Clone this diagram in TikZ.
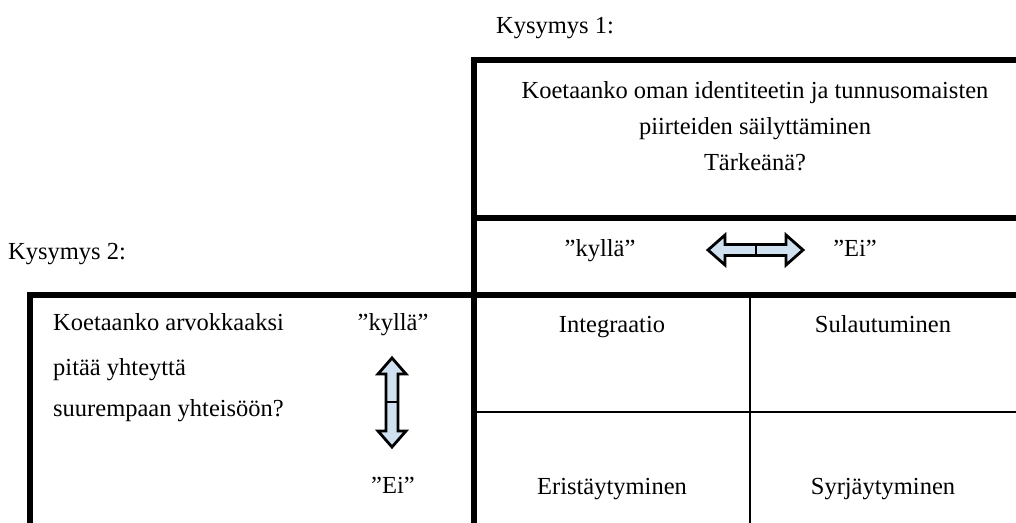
\documentclass[tikz,border=0pt]{standalone}
\usepackage{fontspec}
\setmainfont{Liberation Serif}
\definecolor{arrowblue}{HTML}{CFE0F1}
\begin{document}
\begin{tikzpicture}[x=1pt,y=-1pt,
  lbl/.style={font=\fontsize{24.5}{36}\selectfont, inner sep=0pt, text height=17pt, text depth=5pt, anchor=center},
  lbll/.style={lbl, anchor=west},
  thickline/.style={line width=5.5pt, line cap=rect},
  thinline/.style={line width=2pt},
  blockarrow/.style={draw=black, line width=2.8pt, fill=arrowblue, line join=miter},
  divider/.style={line width=2.5pt}]
\useasboundingbox (0,0) rectangle (1016,522);
\clip (0,0) rectangle (1016,522);
% frame lines
\coordinate (tl) at (474,60);
\coordinate (tr) at (1030,60);
\coordinate (ml) at (474,218);
\coordinate (mr) at (1030,218);
\coordinate (bl) at (30,295);
\coordinate (br) at (1030,295);
\coordinate (lb) at (30,540);
\coordinate (cb) at (474,540);
\draw[thickline] (tr) -- (tl) -- (cb);
\draw[thickline] (ml) -- (mr);
\draw[thickline] (lb) -- (bl) -- (br);
\coordinate (gt) at (750,295);
\coordinate (gb) at (750,540);
\coordinate (hl) at (474,412);
\coordinate (hr) at (1030,412);
\draw[thinline] (gt) -- (gb);
\draw[thinline] (hl) -- (hr);
% texts
\node[lbl] (k1) at (555,27) {Kysymys 1:};
\node[lbl] (q1a) at (755,92) {Koetaanko oman identiteetin ja tunnusomaisten};
\node[lbl] (q1b) at (755,128) {piirteiden säilyttäminen};
\node[lbl] (q1c) at (755,164) {Tärkeänä?};
\node[lbll] (k2) at (8,253) {Kysymys 2:};
\node[lbl] (y1) at (600,250) {”kyllä”};
\node[lbl] (e1) at (855,250) {”Ei”};
\node[lbll] (q2a) at (53,324) {Koetaanko arvokkaaksi};
\node[lbll] (q2b) at (53,369) {pitää yhteyttä};
\node[lbll] (q2c) at (53,410) {suurempaan yhteisöön?};
\node[lbl] (y2) at (393,324) {”kyllä”};
\node[lbl] (e2) at (393,487) {”Ei”};
\node[lbl] (c11) at (612,326) {Integraatio};
\node[lbl] (c12) at (883,326) {Sulautuminen};
\node[lbl] (c21) at (612,488) {Eristäytyminen};
\node[lbl] (c22) at (883,488) {Syrjäytyminen};
% horizontal double arrow
\draw[blockarrow] (708,250) -- (725,235) -- (725,244.5) -- (786,244.5) -- (786,235) -- (803,250)
  -- (786,265) -- (786,255.5) -- (725,255.5) -- (725,265) -- cycle;
\draw[divider] (756,244.5) -- (756,255.5);
% vertical double arrow
\draw[blockarrow] (392,358) -- (406,374) -- (398,374) -- (398,431) -- (406,431) -- (392,447)
  -- (378,431) -- (386,431) -- (386,374) -- (378,374) -- cycle;
\draw[divider] (386,402) -- (398,402);
\end{tikzpicture}
\end{document}
